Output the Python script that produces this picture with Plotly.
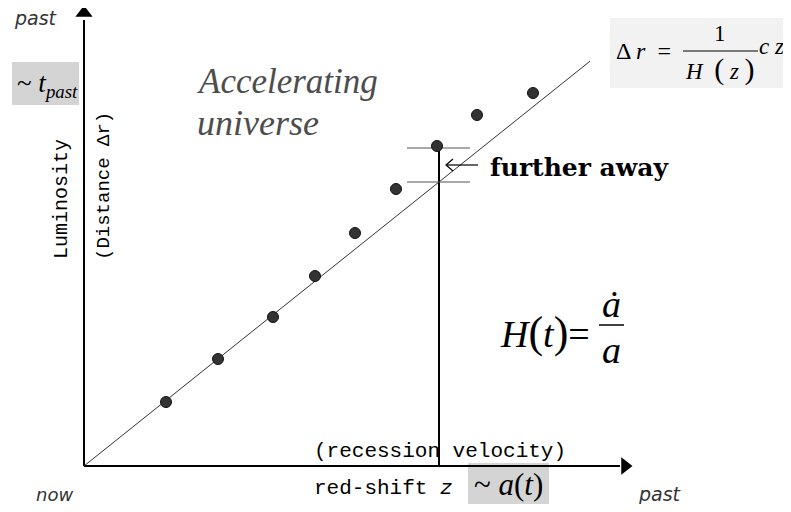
import plotly.graph_objects as go

# the page body has an 8px margin, so the figure is drawn smaller and
# everything is placed 8px up and left of the reference pixel position
OFF = 8
W, H = 791 - OFF, 512 - 2 * OFF

# supernova points: red-shift z against distance (arbitrary units)
redshift = [0.82, 1.34, 1.89, 2.31, 2.71, 3.12, 3.53, 3.93, 4.49]
distance = [0.64, 1.07, 1.49, 1.90, 2.33, 2.77, 3.20, 3.51, 3.73]

# straight (non-accelerating) Hubble line, distance = slope * z
fit_slope = 0.80
fit_z = [0.0, 5.06]
fit_d = [fit_slope * z for z in fit_z]

# the marked red-shift and the two distances compared there
z_mark = 3.55
d_obs = 3.18
d_fit = fit_slope * z_mark

x_range = [-0.76, 7.07]
y_range = [-0.38, 4.58]


def px(x, y):
    # reference pixel position -> paper fraction (margins are zero)
    return (x - OFF) / W, 1 - (y - OFF) / H


fig = go.Figure()

# axes with arrow heads
fig.add_trace(go.Scatter(x=[0, 5.36], y=[0, 0], mode="lines",
                         line=dict(color="black", width=2), hoverinfo="skip"))
fig.add_trace(go.Scatter(x=[0, 0], y=[0, 4.46], mode="lines",
                         line=dict(color="black", width=2), hoverinfo="skip"))
fig.add_trace(go.Scatter(x=[5.41], y=[0], mode="markers",
                         marker=dict(symbol="triangle-right", size=15, color="black")))
fig.add_trace(go.Scatter(x=[0], y=[4.53], mode="markers",
                         marker=dict(symbol="triangle-up", size=15, color="black")))

# reference line
fig.add_trace(go.Scatter(x=fit_z, y=fit_d, mode="lines",
                         line=dict(color="#333333", width=1)))

# z marker with the two horizontal ticks
fig.add_trace(go.Scatter(x=[z_mark, z_mark], y=[0, d_obs], mode="lines",
                         line=dict(color="black", width=2)))
for d in (d_obs, d_fit):
    fig.add_trace(go.Scatter(x=[z_mark - 0.32, z_mark + 0.31], y=[d, d], mode="lines",
                             line=dict(color="#555555", width=1)))

# small open arrow pointing at the gap
ay = (d_obs + d_fit) / 2
fig.add_trace(go.Scatter(x=[z_mark + 0.39, z_mark + 0.07, None,
                            z_mark + 0.14, z_mark + 0.07, z_mark + 0.14],
                         y=[ay, ay, None, ay + 0.06, ay, ay - 0.06], mode="lines",
                         line=dict(color="black", width=1.2)))

# data points
fig.add_trace(go.Scatter(x=redshift, y=distance, mode="markers",
                         marker=dict(size=11, color="#333333",
                                     line=dict(color="#111111", width=1))))

shapes = []


def box(x0, y0, x1, y1, color):
    a0, b0 = px(x0, y0)
    a1, b1 = px(x1, y1)
    shapes.append(dict(type="rect", xref="paper", yref="paper", x0=a0, y0=b1, x1=a1, y1=b0,
                       fillcolor=color, line=dict(width=0), layer="below"))


def hline(x0, x1, y, width=1):
    a0, b = px(x0, y)
    a1, _ = px(x1, y)
    shapes.append(dict(type="line", xref="paper", yref="paper", x0=a0, x1=a1, y0=b, y1=b,
                       line=dict(color="black", width=width)))


box(12, 62, 79, 105, "#d4d4d4")
box(468, 463, 549, 504, "#d4d4d4")
box(610, 18, 791, 88, "#f2f2f2")
hline(683, 758, 51)
hline(599, 624, 325, 1.5)

anns = []
TIMES = "Liberation Serif"
WIDE = "DejaVu Serif"
MONO = "Liberation Mono"
SANS = "DejaVu Sans"


def text(x, y, s, size, family, color="black", xanchor="center", angle=0):
    a, b = px(x, y)
    anns.append(dict(x=a, y=b, xref="paper", yref="paper", text=s, showarrow=False,
                     xanchor=xanchor, yanchor="middle", textangle=angle,
                     font=dict(size=size, family=family, color=color)))


text(12, 18, "<i>past</i>", 19, SANS, "#333333", "left")
text(34, 494, "<i>now</i>", 18, SANS, "#333333", "left")
text(636, 494, "<i>past</i>", 19, SANS, "#333333", "left")

text(15, 85, "~ <i>t</i><sub><i>past</i></sub>", 27, TIMES, xanchor="left")
text(508, 484, "~ <i>a</i>(<i>t</i>)", 31, TIMES)

text(195, 82, "<i>Accelerating</i>", 35, TIMES, "#4d4d4d", "left")
text(195, 123, "<i>universe</i>", 36, TIMES, "#4d4d4d", "left")

text(62, 199, "Luminosity", 20, MONO, angle=-90)
text(104, 186, "(Distance Δr)", 19, MONO, angle=-90)

text(488, 168, "<b>further away</b>", 25, WIDE, xanchor="left")

text(312, 451, "(recession velocity)", 21, MONO, xanchor="left")
text(312, 488, "red-shift <i>z</i>", 21, MONO, xanchor="left")

# delta r = c z / H(z)
text(614, 51, "Δ <i>r</i>  =", 24, TIMES, xanchor="left")
text(720, 34, "1", 23, TIMES)
text(720, 69, "<i>H</i>  <span style='font-size:30px'>(</span> <i>z</i> "
     "<span style='font-size:30px'>)</span>", 23, TIMES)
text(786, 47, "<i>c z</i>", 23, TIMES, xanchor="right")

# H(t) = a-dot / a
text(498, 332, "<i>H</i><span style='font-size:44px'>(</span><i>t</i><span style='font-size:44px'>)</span>=",
     38, TIMES, xanchor="left")
text(611, 304, "<i>ȧ</i>", 38, TIMES)
text(611, 350, "<i>a</i>", 38, TIMES)

fig.update_layout(
    width=W, height=H, margin=dict(l=0, r=0, t=0, b=0),
    paper_bgcolor="white", plot_bgcolor="white", showlegend=False,
    xaxis=dict(range=x_range, visible=False, fixedrange=True),
    yaxis=dict(range=y_range, visible=False, fixedrange=True),
    shapes=shapes, annotations=anns,
)

fig.write_html("out.html")
